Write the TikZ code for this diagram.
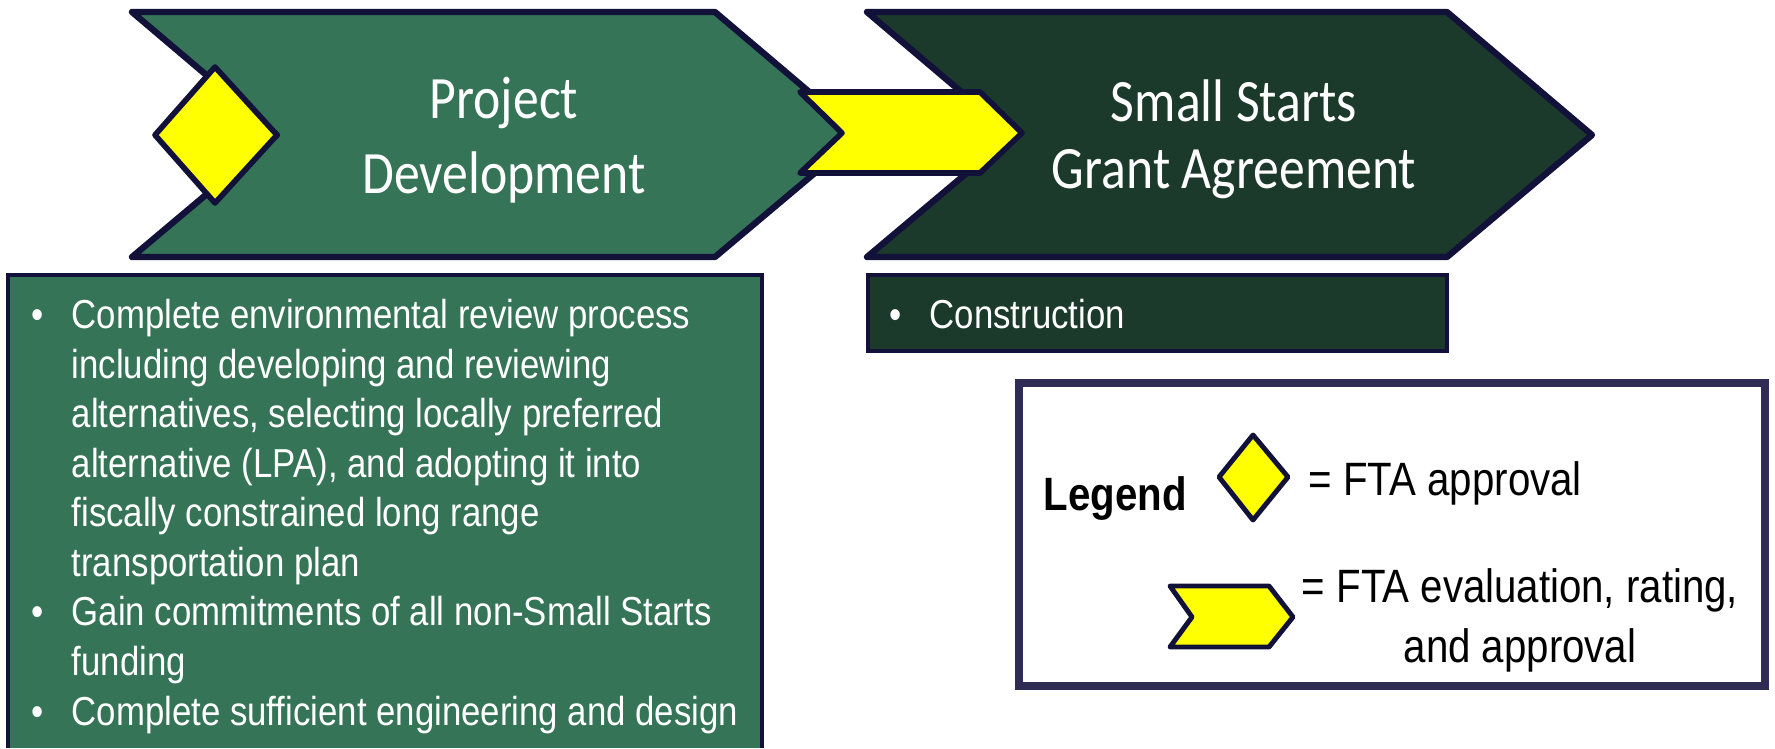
\documentclass[tikz,border=0pt]{standalone}
\usepackage{fontspec}
\setmainfont{Liberation Sans}[FakeStretch=0.86]
\newfontfamily\headfont{Carlito}[FakeStretch=0.86]
\usetikzlibrary{positioning}

\definecolor{pdgreen}{RGB}{53,116,87}
\definecolor{ssgreen}{RGB}{28,58,43}
\definecolor{navy}{RGB}{18,17,58}
\definecolor{legendnavy}{RGB}{46,44,85}
\definecolor{marky}{RGB}{255,255,0}

\newcommand{\bitem}{\makebox[0.4cm][l]{\textbullet}}
\newcommand{\bcont}{\hspace*{0.4cm}}

\begin{document}
\begin{tikzpicture}[x=0.01cm, y=-0.01cm,
		chev/.style={draw=navy, line width=1.8pt, line join=round},
		marker/.style={draw=navy, fill=marky, line width=1.6pt, line join=round},
		head/.style={white, font=\headfont\fontsize{17.1pt}{21.3pt}\selectfont, align=center, inner sep=0},
		body/.style={white, font=\fontsize{11.5pt}{14.1pt}\selectfont, align=left, inner sep=0},
		legendtext/.style={black, font=\fontsize{13.3pt}{16.8pt}\selectfont, inner sep=0}]
		\useasboundingbox (0,0) rectangle (1775,748);

		% the two stages
		\draw[chev, fill=pdgreen] (132,12) -- (715,12) -- (860,135) -- (715,257) -- (132,257) -- (277,135) -- cycle;
		\draw[chev, fill=ssgreen] (867,12) -- (1447,12) -- (1592,135) -- (1447,257) -- (867,257) -- (1012,135) -- cycle;
		\draw[marker] (215,67) -- (277,135) -- (215,203) -- (155,135) -- cycle;
		\draw[marker] (800,92) -- (980,92) -- (1022,133) -- (980,173) -- (800,173) -- (842,133) -- cycle;
		\node[head, anchor=base] (pd) at (504,193) {Project\\Development};
		\node[head, font=\headfont\fontsize{17.1pt}{18.8pt}\selectfont, anchor=base] (ss) at (1234,188) {Small Starts\\Grant Agreement};

		% what happens in each stage
		\fill[pdgreen] (8,275) rectangle (762,748);
		\draw[navy, line width=0.9pt] (8,748) |- (762,275) -- (762,748);
		\node[body, anchor=north west] (pdlist) at (31,293) {\strut\bitem Complete environmental review process\\
			\bcont including developing and reviewing\\
			\bcont alternatives, selecting locally preferred\\
			\bcont alternative (LPA), and adopting it into\\
			\bcont fiscally constrained long range\\
			\bcont transportation plan\\
			\bitem Gain commitments of all non-Small Starts\\
			\bcont funding\\
			\bitem Complete sufficient engineering and design};
		\draw[navy, fill=ssgreen, line width=0.9pt] (868,275) rectangle (1447,351);
		\node[body, anchor=base west] (sslist) at (889,328) {\bitem Construction};

		% legend
		\draw[legendnavy, line width=2pt] (1019,383) rectangle (1765,686);
		\node[legendtext, font=\fontsize{13.3pt}{16.8pt}\selectfont\bfseries, anchor=base west] (legend) at (1043,510) {Legend};
		\draw[marker, line width=1.4pt] (1253,435) -- (1288,477) -- (1253,520) -- (1219,477) -- cycle;
		\node[legendtext, anchor=base west] (approval) at (1308,495) {= FTA approval};
		\draw[marker, line width=1.4pt] (1170,586) -- (1269,586) -- (1293,617) -- (1269,647) -- (1170,647) -- (1192,617) -- cycle;
		\node[legendtext, align=center, anchor=base] (evaluation) at (1520,662) {= FTA evaluation, rating,\\and approval};
	\end{tikzpicture}
\end{document}
